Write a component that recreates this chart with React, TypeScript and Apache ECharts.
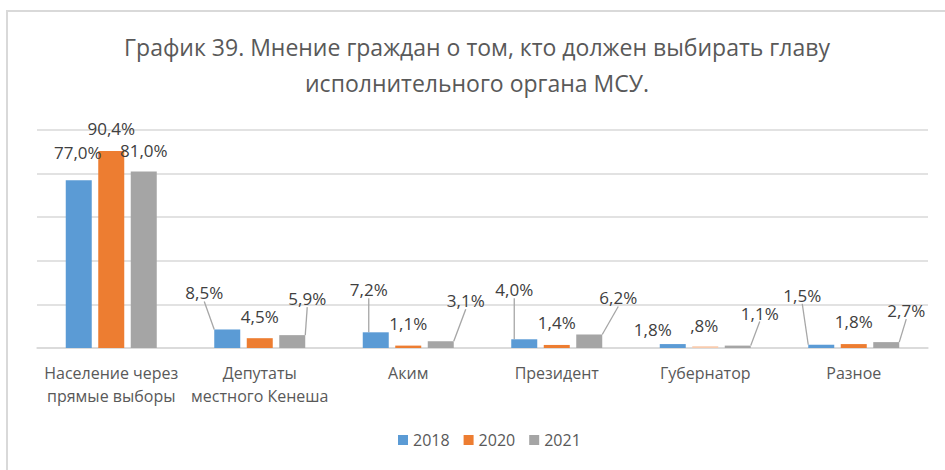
import React, { useEffect, useRef } from "react";
import * as echarts from "echarts";

const categories = [
  "Население через\nпрямые выборы",
  "Депутаты\nместного Кенеша",
  "Аким",
  "Президент",
  "Губернатор",
  "Разное",
];
const seriesNames = ["2018", "2020", "2021"];
const values2018 = [77.0, 8.5, 7.2, 4.0, 1.8, 1.5];
const values2020 = [90.4, 4.5, 1.1, 1.4, 0.8, 1.8];
const values2021 = [81.0, 5.9, 3.1, 6.2, 1.1, 2.7];
const titleText =
  "График 39. Мнение граждан о том, кто должен выбирать главу\nисполнительного органа МСУ.";

// styling / label placement (not data)
const colors = ["#5B9BD5", "#ED7D31", "#A5A5A5"];
const fadedColor = "#F8CBAD";
const labelShift = [
  [[-1, -14], [-23, -23], [-7, -29], [-10, -36], [-20, -1], [-19, -36]],
  [[0, -9], [0, -8], [0, -9], [0, -9], [-1, -7], [0, -9]],
  [[0, -7], [15, -23], [25, -27], [29, -23], [22, -19], [20, -18]],
];
const leader = [
  [false, true, true, true, false, true],
  [false, false, false, false, false, false],
  [false, true, true, true, true, true],
];

const FONT = "Open Sans";

function fmt(v: number): string {
  let s = v.toFixed(1).replace(".", ",");
  if (s.startsWith("0,")) s = s.slice(1);
  return s + "%";
}

export default function App() {
  const ref = useRef<HTMLDivElement>(null);
  useEffect(() => {
    document.body.style.margin = "0";
    const chart = echarts.init(ref.current!, null, { renderer: "svg" });
    const all = [values2018, values2020, values2021];
    const series = all.map((vals, si) => ({
      name: seriesNames[si],
      type: "bar",
      barWidth: 26,
      barGap: "25%",
      itemStyle: { color: colors[si] },
      data: vals.map((v, i) => {
        const item: any = { value: v, labelLine: { show: leader[si][i] } };
        if (si === 1 && i === 4) item.itemStyle = { color: fadedColor };
        return item;
      }),
      label: {
        show: true,
        position: "top",
        distance: 5,
        fontFamily: FONT,
        fontSize: 17,
        color: "#404040",
        formatter: (p: any) => fmt(p.value),
      },
      labelLine: {
        show: false,
        lineStyle: { color: "#A6A6A6", width: 1.3 },
      },
      labelLayout: (p: any) => {
        const s = labelShift[p.seriesIndex][p.dataIndex];
        return { dx: s[0], dy: s[1] };
      },
    }));
    chart.setOption({
      animation: false,
      backgroundColor: "#ffffff",
      textStyle: { fontFamily: FONT },
      graphic: [
        {
          type: "rect",
          shape: { x: 7, y: 11, width: 1000, height: 500 },
          style: { fill: "none", stroke: "#D9D9D9", lineWidth: 2 },
          silent: true,
          z: -10,
        },
      ],
      title: {
        text: titleText,
        left: 472,
        textAlign: "center",
        top: 24,
        textStyle: {
          fontFamily: FONT,
          fontSize: 23,
          fontWeight: "normal",
          color: "#595959",
          lineHeight: 36,
        },
      },
      legend: {
        bottom: 17,
        left: 393,
        itemWidth: 10,
        itemHeight: 10,
        itemGap: 14,
        icon: "rect",
        textStyle: { fontFamily: FONT, fontSize: 16, color: "#595959" },
        data: seriesNames,
      },
      grid: { left: 37, right: 17, top: 130, bottom: 122, containLabel: false },
      xAxis: {
        type: "category",
        data: categories,
        axisLine: { lineStyle: { color: "#D9D9D9", width: 1.5 } },
        axisTick: { show: false },
        axisLabel: {
          fontFamily: FONT,
          fontSize: 16,
          color: "#595959",
          lineHeight: 23,
          margin: 13,
          interval: 0,
        },
      },
      yAxis: {
        type: "value",
        min: 0,
        max: 100,
        interval: 20,
        axisLabel: { show: false },
        axisLine: { show: false },
        axisTick: { show: false },
        splitLine: { lineStyle: { color: "#D9D9D9", width: 1.5 } },
      },
      series,
    });
    return () => chart.dispose();
  }, []);
  return <div ref={ref} style={{ width: 945, height: 470 }} />;
}
